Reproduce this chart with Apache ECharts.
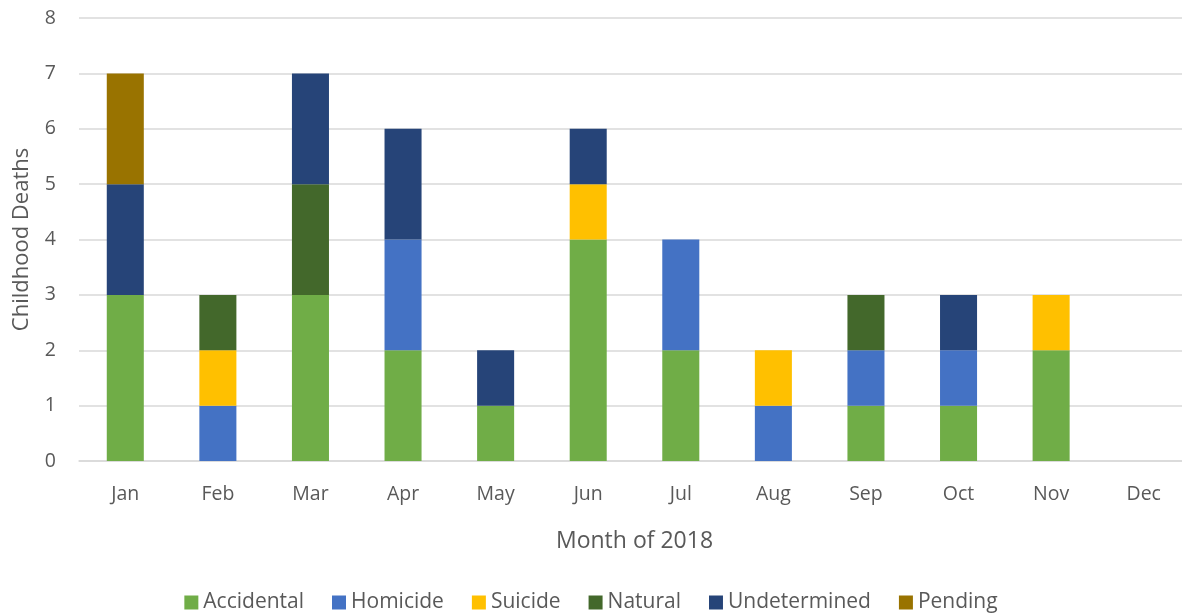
<!DOCTYPE html>
<html>
<head>
<meta charset="utf-8">
<script src="https://cdn.jsdelivr.net/npm/echarts@6/dist/echarts.min.js"></script>
<style>
  html, body { margin: 0; padding: 0; background: #fff; }
  #chart { width: 1182px; height: 613px; }
</style>
</head>
<body>
<div id="chart"></div>
<script>
const months = ['Jan', 'Feb', 'Mar', 'Apr', 'May', 'Jun', 'Jul', 'Aug', 'Sep', 'Oct', 'Nov', 'Dec'];
const accidental = [3, 0, 3, 2, 1, 4, 2, 0, 1, 1, 2, 0];
const homicide = [0, 1, 0, 2, 0, 0, 2, 1, 1, 1, 0, 0];
const suicide = [0, 1, 0, 0, 0, 1, 0, 1, 0, 0, 1, 0];
const natural = [0, 1, 2, 0, 0, 0, 0, 0, 1, 0, 0, 0];
const undetermined = [2, 0, 2, 2, 1, 1, 0, 0, 0, 1, 0, 0];
const pending = [2, 0, 0, 0, 0, 0, 0, 0, 0, 0, 0, 0];

const font = '"Open Sans", "Noto Sans", sans-serif';
const textColor = '#595959';

const chart = echarts.init(document.getElementById('chart'));

function bar(name, data, color) {
  return {
    name: name,
    type: 'bar',
    stack: 'total',
    data: data,
    barWidth: '40%',
    itemStyle: { color: color },
  };
}

chart.setOption({
  animation: false,
  textStyle: { fontFamily: font },
  grid: { left: 79, right: -8, top: 18, bottom: 152, outerBoundsMode: 'none', containLabel: false },
  legend: {
    bottom: -5,
    left: 'center',
    itemWidth: 14,
    itemHeight: 14,
    itemGap: 28,
    icon: 'rect',
    textStyle: { fontSize: 21, color: textColor, fontFamily: font },
  },
  xAxis: {
    type: 'category',
    data: months,
    name: 'Month of 2018',
    nameLocation: 'middle',
    nameGap: 69,
    nameTextStyle: { fontSize: 23, color: textColor },
    axisTick: { show: false },
    axisLine: { lineStyle: { color: '#d9d9d9', width: 1.5 } },
    axisLabel: { fontSize: 19.5, color: textColor, margin: 23 },
  },
  yAxis: {
    type: 'value',
    min: 0,
    max: 8,
    interval: 1,
    name: 'Childhood Deaths',
    nameLocation: 'middle',
    nameGap: 46,
    nameTextStyle: { fontSize: 22, color: textColor },
    axisLabel: { fontSize: 19.5, color: textColor, margin: 23 },
    splitLine: { lineStyle: { color: '#d9d9d9', width: 1.5 } },
  },
  series: [
    bar('Accidental', accidental, '#70AD47'),
    bar('Homicide', homicide, '#4472C4'),
    bar('Suicide', suicide, '#FFC000'),
    bar('Natural', natural, '#43682B'),
    bar('Undetermined', undetermined, '#264478'),
    bar('Pending', pending, '#997300'),
  ],
});
</script>
</body>
</html>
